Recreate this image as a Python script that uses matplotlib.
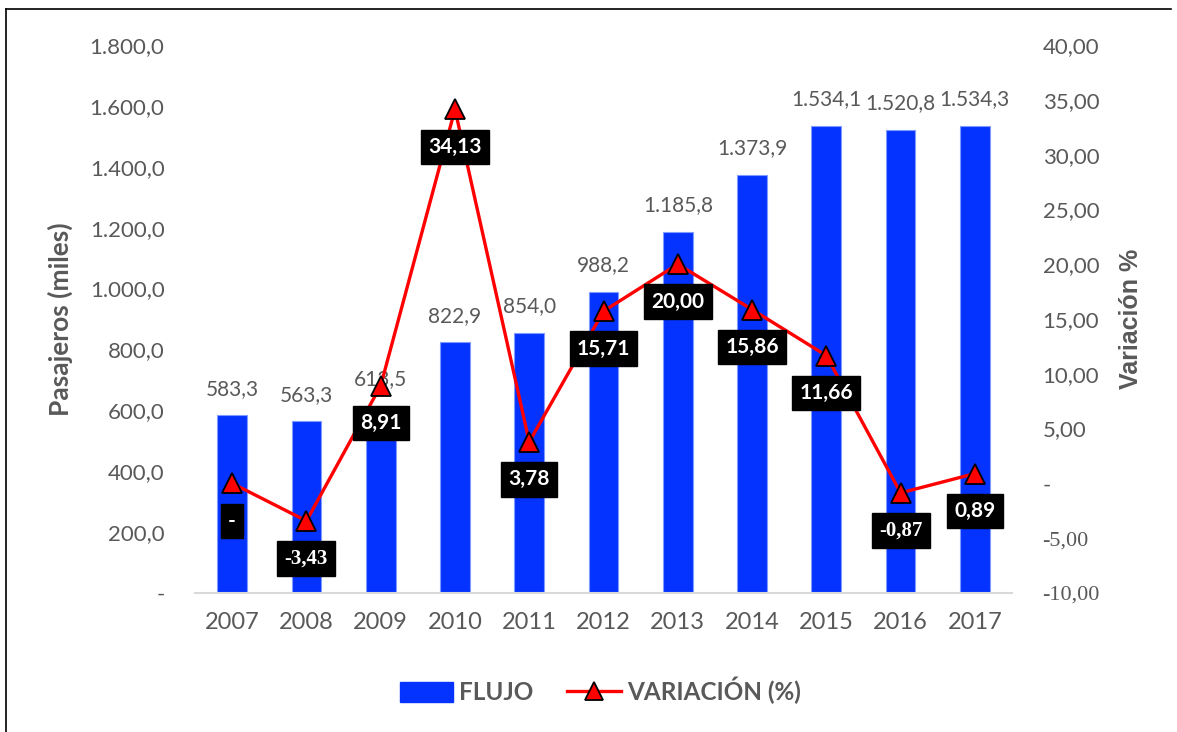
import matplotlib.pyplot as plt
from matplotlib.lines import Line2D
from matplotlib.patches import Patch

years = ["2007", "2008", "2009", "2010", "2011", "2012", "2013", "2014", "2015", "2016", "2017"]
flujo = [583.3, 563.3, 613.5, 822.9, 854.0, 988.2, 1185.8, 1373.9, 1534.1, 1520.8, 1534.3]
variacion = [0.0, -3.43, 8.91, 34.13, 3.78, 15.71, 20.00, 15.86, 11.66, -0.87, 0.89]
var_labels = ["-", "-3,43", "8,91", "34,13", "3,78", "15,71", "20,00", "15,86", "11,66", "-0,87", "0,89"]

GRAY = "#595959"
BLUE = "#0433FF"
RED = "#FF0000"
FONT = ["Lato", "DejaVu Sans"]


def fmt_es(v, dec):
    s = f"{v:,.{dec}f}"
    return s.replace(",", "X").replace(".", ",").replace("X", ".")


plt.rcParams["font.family"] = FONT

fig = plt.figure(figsize=(11.77, 7.32), dpi=100)
ax = fig.add_axes([0.1657, 0.19, 0.6941, 0.7485])
ax2 = ax.twinx()

x = list(range(len(years)))

# bars
ax.bar(x, flujo, width=0.4, color=BLUE, edgecolor="#7F9BFF", linewidth=0.8, zorder=2)
for xi, v in zip(x, flujo):
    ax.annotate(fmt_es(v, 1), (xi, v), xytext=(0, 12), textcoords="offset points",
                ha="center", va="bottom", fontsize=15, color=GRAY)

ax.set_xlim(-0.5, len(years) - 0.5)
ax.set_ylim(0, 1800)
ax.set_yticks(range(0, 1801, 200))
ax.set_yticklabels(["-"] + [fmt_es(v, 1) for v in range(200, 1801, 200)])
ax.set_xticks(x)
ax.set_xticklabels(years)
ax.tick_params(axis="x", length=0, pad=14, labelsize=17, colors=GRAY)
ax.tick_params(axis="y", length=0, pad=22, labelsize=16, colors=GRAY)
ax.set_ylabel("Pasajeros (miles)", fontsize=19, fontweight="bold", color=GRAY, labelpad=12)

for s in ["top", "right", "left"]:
    ax.spines[s].set_visible(False)
ax.spines["bottom"].set_color("#D9D9D9")
ax.spines["bottom"].set_linewidth(1.5)

# line
ax2.plot(x, variacion, color=RED, lw=2.4, marker="^", markersize=15,
         markerfacecolor=RED, markeredgecolor="black", markeredgewidth=1.3, zorder=3)
for xi, v, lab in zip(x, variacion, var_labels):
    serif = lab.startswith("-") and len(lab) > 1
    ax2.annotate(lab, (xi, v), xytext=(0, -27), textcoords="offset points",
                 ha="center", va="center", fontsize=15, fontweight="bold", color="white",
                 family=["Liberation Serif"] if serif else FONT,
                 bbox=dict(boxstyle="square,pad=0.35", fc="black", ec="black"), zorder=4)

ax2.set_ylim(-10, 40)
ticks2 = list(range(-10, 41, 5))
ax2.set_yticks(ticks2)
ax2.set_yticklabels([("-" if t == 0 else fmt_es(t, 2)) for t in ticks2])
ax2.tick_params(axis="y", length=0, pad=22, labelsize=16, colors=GRAY)
for t, lab in zip(ticks2, ax2.get_yticklabels()):
    if t < 0:
        lab.set_family(["Liberation Serif"])
ax2.set_ylabel("Variación %", fontsize=18, fontweight="bold", color=GRAY, labelpad=14,
               family=["Liberation Sans"])
for s in ax2.spines.values():
    s.set_visible(False)

# legend
handles = [Patch(facecolor=BLUE, edgecolor=BLUE),
           Line2D([0], [0], color=RED, lw=2.4, marker="^", markersize=13,
                  markerfacecolor=RED, markeredgecolor="black", markeredgewidth=1.3)]
leg = fig.legend(handles, ["FLUJO", "VARIACIÓN (%)"], loc="center", bbox_to_anchor=(0.51, 0.057),
                 ncol=2, frameon=False, handlelength=2.2, handleheight=0.9, handletextpad=0.25,
                 columnspacing=1.4, prop={"size": 17.5, "weight": "bold"})
for t in leg.get_texts():
    t.set_color(GRAY)

# outer frame
fig.add_artist(Line2D([0.0055, 0.0055], [0.0, 0.988], color="black", lw=1.2, transform=fig.transFigure))
fig.add_artist(Line2D([0.0055, 0.995], [0.988, 0.988], color="black", lw=1.2, transform=fig.transFigure))

fig.savefig("out.png", dpi=100)
